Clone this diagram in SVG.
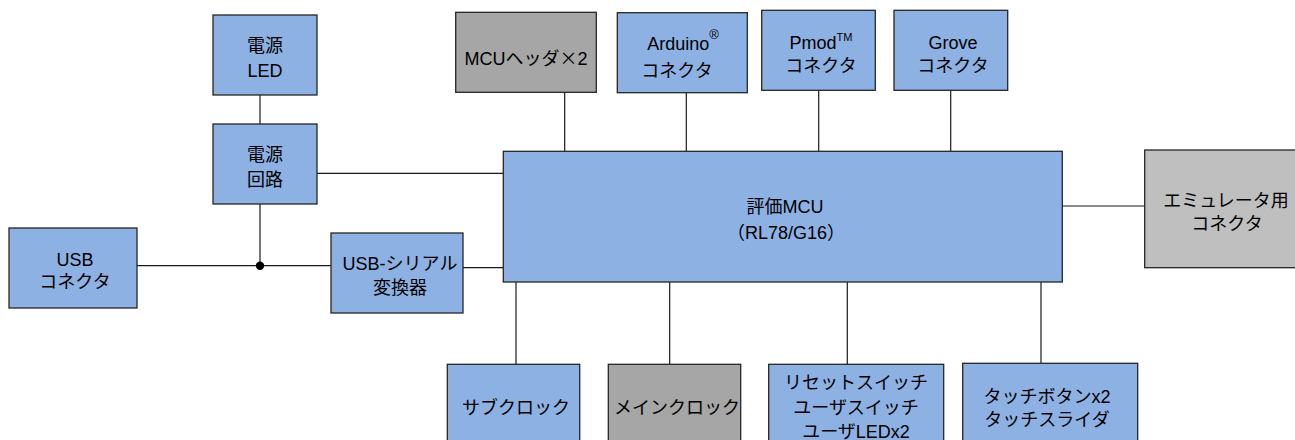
<svg xmlns="http://www.w3.org/2000/svg" width="1295" height="440" viewBox="0 0 1295 440">
<style>
.b{fill:#8DB1E3;stroke:#262626;stroke-width:1.3}
.g{fill:#A6A6A6;stroke:#262626;stroke-width:1.3}
.e{fill:#BFBFBF;stroke:#262626;stroke-width:1.3}
text{font-family:"Liberation Sans","Noto Sans CJK JP",sans-serif;font-size:18px;fill:#000;text-anchor:middle}
.j{font-family:"Noto Sans CJK JP",sans-serif}
.c line{stroke:#1a1a1a;stroke-width:1.2}
</style>
<rect width="1295" height="440" fill="#fff"/>
<g class="c" id="connectors">
<line x1="260" y1="95" x2="260" y2="124"/>
<line x1="317" y1="173.3" x2="503" y2="173.3"/>
<line x1="260" y1="204" x2="260" y2="265.7"/>
<line x1="137" y1="265.7" x2="331" y2="265.7"/>
<line x1="463" y1="267.7" x2="503" y2="267.7"/>
<line x1="564.7" y1="92.3" x2="564.7" y2="151"/>
<line x1="686.3" y1="92.7" x2="686.3" y2="151"/>
<line x1="818.7" y1="90.3" x2="818.7" y2="151"/>
<line x1="950.7" y1="90.3" x2="950.7" y2="151"/>
<line x1="516" y1="282" x2="516" y2="364.3"/>
<line x1="669.7" y1="282" x2="669.7" y2="364.3"/>
<line x1="847.3" y1="282" x2="847.3" y2="364.3"/>
<line x1="1041" y1="282" x2="1041" y2="363.3"/>
<line x1="1062" y1="206" x2="1145" y2="206"/>
<circle cx="260" cy="265.7" r="4.2" fill="#000"/>
</g>
<g id="pwr-led"><rect class="b" x="213" y="15" width="104" height="80"/><text x="265" y="52">電源</text><text x="265" y="77">LED</text></g>
<g id="pwr"><rect class="b" x="213" y="124" width="104" height="80"/><text x="265" y="161">電源</text><text x="265" y="186">回路</text></g>
<g id="usb"><rect class="b" x="9" y="228" width="128" height="80"/><text x="75" y="266">USB</text><text x="75" y="288">コネクタ</text></g>
<g id="usb-serial"><rect class="b" x="331" y="233" width="132" height="80"/><text x="400" y="270">USB-シリアル</text><text x="400" y="294">変換器</text></g>
<g id="mcu-header"><rect class="g" x="455.7" y="12.3" width="140.6" height="80"/><text x="526" y="65">MCUヘッダ<tspan class="j">×</tspan>2</text></g>
<g id="arduino"><rect class="b" x="617.3" y="12.7" width="130" height="80"/><text x="683" y="50">Arduino<tspan font-size="13" dy="-11">®</tspan></text><text x="677" y="77">コネクタ</text></g>
<g id="pmod"><rect class="b" x="761.7" y="10.3" width="113.6" height="80"/><text x="821" y="49">Pmod<tspan font-size="11" dy="-8">TM</tspan></text><text x="821" y="72">コネクタ</text></g>
<g id="grove"><rect class="b" x="894" y="10.3" width="113.7" height="80"/><text x="953" y="49">Grove</text><text x="953" y="72">コネクタ</text></g>
<g id="mcu"><rect class="b" x="503.3" y="151.3" width="559" height="130.7"/><text x="785" y="213">評価MCU</text><text x="786" y="239">（RL78/G16）</text></g>
<g id="emulator"><rect class="e" x="1144.7" y="150" width="160" height="117.7"/><text x="1226" y="207">エミュレータ用</text><text x="1227" y="230">コネクタ</text></g>
<g id="sub-clock"><rect class="b" x="447.3" y="364.3" width="132.4" height="90"/><text x="516" y="414">サブクロック</text></g>
<g id="main-clock"><rect class="g" x="608.3" y="364.3" width="132.4" height="90"/><text x="677" y="414">メインクロック</text></g>
<g id="switches"><rect class="b" x="768.7" y="364.3" width="175" height="90"/><text x="856" y="389">リセットスイッチ</text><text x="856" y="414">ユーザスイッチ</text><text x="856" y="438">ユーザLEDx2</text></g>
<g id="touch"><rect class="b" x="962.7" y="363.3" width="175" height="90"/><text x="1047" y="403">タッチボタンx2</text><text x="1047" y="426">タッチスライダ</text></g>
</svg>
